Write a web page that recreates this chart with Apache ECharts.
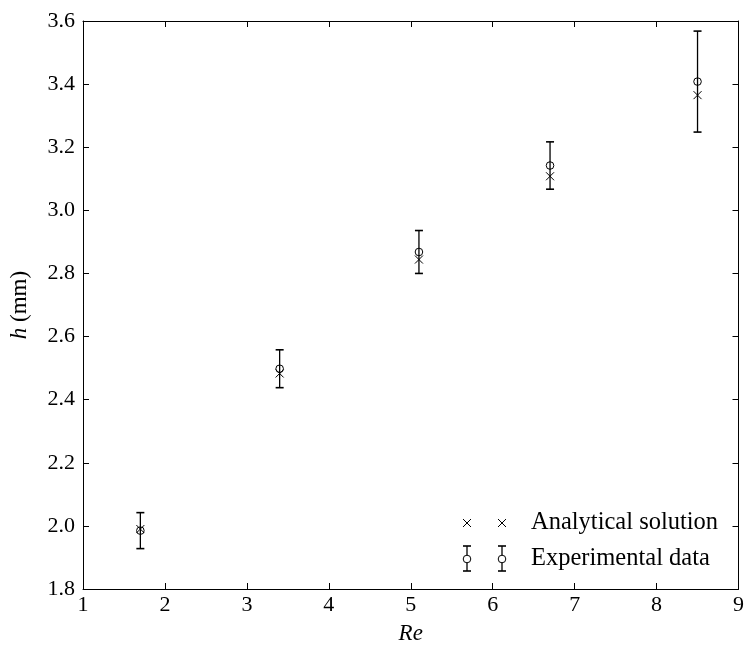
<!DOCTYPE html>
<html>
<head>
<meta charset="utf-8">
<script src="https://cdn.jsdelivr.net/npm/echarts@6/dist/echarts.min.js"></script>
<style>html,body{margin:0;padding:0;background:#fff}#c{width:747px;height:650px}</style>
</head>
<body>
<div id="c"></div>
<script>
const reValues = [1.7, 3.4, 5.1, 6.7, 8.5];
const experimental = [1.985, 2.498, 2.868, 3.142, 3.408];
const expError = [0.057, 0.060, 0.068, 0.075, 0.160];
const analytical = [1.990, 2.483, 2.844, 3.108, 3.365];
const xTicks = [1, 2, 3, 4, 5, 6, 7, 8, 9];
const yTicks = [1.8, 2.0, 2.2, 2.4, 2.6, 2.8, 3.0, 3.2, 3.4, 3.6];

const FONT = '"Liberation Serif", "DejaVu Serif", serif';
const chart = echarts.init(document.getElementById('c'), null, {renderer: 'canvas'});

const expData = reValues.map((x, i) => [x, experimental[i], experimental[i] - expError[i], experimental[i] + expError[i]]);
const anaData = reValues.map((x, i) => [x, analytical[i]]);

function axisCommon() {
  return {
    axisLine: {show: true, onZero: false, lineStyle: {color: '#000', width: 1}},
    axisTick: {show: true, inside: true, length: 6, lineStyle: {color: '#000', width: 1}},
    splitLine: {show: false}
  };
}

const option = {
  backgroundColor: '#fff',
  animation: false,
  grid: {left: 81, right: 3, top: 21, bottom: 56, containLabel: false},
  xAxis: [
    Object.assign({
      type: 'value', min: xTicks[0], max: xTicks[xTicks.length - 1], interval: 1, position: 'bottom',
      name: 'Re', nameLocation: 'middle', nameGap: 33,
      nameTextStyle: {fontFamily: FONT, fontSize: 23, fontStyle: 'italic', color: '#000'},
      axisLabel: {fontFamily: FONT, fontSize: 22, color: '#000', margin: 5,
        formatter: v => String(v)}
    }, axisCommon()),
    Object.assign({
      type: 'value', min: xTicks[0], max: xTicks[xTicks.length - 1], interval: 1, position: 'top',
      axisLabel: {show: false}
    }, axisCommon())
  ],
  yAxis: [
    Object.assign({
      type: 'value', min: yTicks[0], max: yTicks[yTicks.length - 1], interval: 0.2, position: 'left',
      name: '{i|h} (mm)', nameLocation: 'middle', nameGap: 52, nameRotate: 90,
      nameTextStyle: {fontFamily: FONT, fontSize: 23, color: '#000',
        rich: {i: {fontFamily: FONT, fontSize: 23, fontStyle: 'italic', color: '#000'}}},
      axisLabel: {fontFamily: FONT, fontSize: 22, color: '#000', margin: 8,
        formatter: v => v.toFixed(1)}
    }, axisCommon()),
    Object.assign({
      type: 'value', min: yTicks[0], max: yTicks[yTicks.length - 1], interval: 0.2, position: 'right',
      axisLabel: {show: false}
    }, axisCommon())
  ],
  series: [
    {
      name: 'Experimental data', type: 'custom', xAxisIndex: 0, yAxisIndex: 0,
      data: expData, clip: false,
      renderItem: function (params, api) {
        const x = api.value(0), y = api.value(1), lo = api.value(2), hi = api.value(3);
        const pc = api.coord([x, y]);
        const pl = api.coord([x, lo]);
        const ph = api.coord([x, hi]);
        const cap = 4;
        const st = {stroke: '#000', lineWidth: 1.3, fill: null};
        return {
          type: 'group',
          children: [
            {type: 'line', shape: {x1: pl[0], y1: pl[1], x2: ph[0], y2: ph[1]}, style: st},
            {type: 'line', shape: {x1: pl[0] - cap, y1: pl[1], x2: pl[0] + cap, y2: pl[1]}, style: {stroke: '#000', lineWidth: 1.6}},
            {type: 'line', shape: {x1: ph[0] - cap, y1: ph[1], x2: ph[0] + cap, y2: ph[1]}, style: {stroke: '#000', lineWidth: 1.6}},
            {type: 'circle', shape: {cx: pc[0], cy: pc[1], r: 3.8}, style: {stroke: '#000', lineWidth: 1, fill: 'rgba(0,0,0,0)'}}
          ]
        };
      }
    },
    {
      name: 'Analytical solution', type: 'custom', xAxisIndex: 0, yAxisIndex: 0,
      data: anaData, clip: false,
      renderItem: function (params, api) {
        const p = api.coord([api.value(0), api.value(1)]);
        const s = 4;
        const st = {stroke: '#000', lineWidth: 1};
        return {
          type: 'group',
          children: [
            {type: 'line', shape: {x1: p[0] - s, y1: p[1] - s, x2: p[0] + s, y2: p[1] + s}, style: st},
            {type: 'line', shape: {x1: p[0] - s, y1: p[1] + s, x2: p[0] + s, y2: p[1] - s}, style: st}
          ]
        };
      }
    }
  ],
  graphic: (function () {
    const els = [];
    const rows = [{y: 523, label: 'Analytical solution', kind: 'x'}, {y: 559, label: 'Experimental data', kind: 'o'}];
    const mx = [467, 502];
    rows.forEach(r => {
      mx.forEach(x => {
        if (r.kind === 'x') {
          const s = 4;
          els.push({type: 'line', shape: {x1: x - s, y1: r.y - s, x2: x + s, y2: r.y + s}, style: {stroke: '#000', lineWidth: 1}});
          els.push({type: 'line', shape: {x1: x - s, y1: r.y + s, x2: x + s, y2: r.y - s}, style: {stroke: '#000', lineWidth: 1}});
        } else {
          els.push({type: 'line', shape: {x1: x, y1: r.y - 13, x2: x, y2: r.y + 12}, style: {stroke: '#000', lineWidth: 1.3}});
          els.push({type: 'line', shape: {x1: x - 4, y1: r.y - 13, x2: x + 4, y2: r.y - 13}, style: {stroke: '#000', lineWidth: 1.6}});
          els.push({type: 'line', shape: {x1: x - 4, y1: r.y + 12, x2: x + 4, y2: r.y + 12}, style: {stroke: '#000', lineWidth: 1.6}});
          els.push({type: 'circle', shape: {cx: x, cy: r.y, r: 3.8}, style: {stroke: '#000', lineWidth: 1, fill: '#fff'}});
        }
      });
      els.push({type: 'text', x: 531, y: r.y, style: {text: r.label, fontFamily: FONT, fontSize: 24.5, fill: '#000', textVerticalAlign: 'middle', verticalAlign: 'middle'}});
    });
    return els;
  })()
};
chart.setOption(option);
</script>
</body>
</html>
